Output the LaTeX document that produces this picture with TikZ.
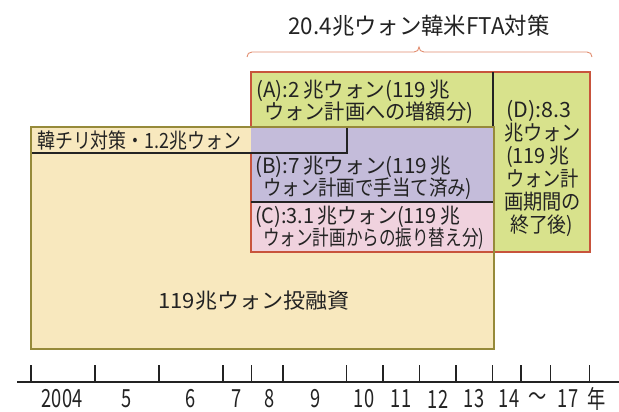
\documentclass[tikz,border=0pt]{standalone}
\usepackage{fontspec}
\usepackage{graphicx}
\newfontfamily\jp{Noto Sans CJK JP}
\newcommand\fw[2]{\resizebox{#1pt}{\height}{#2}}
\newcommand\axs[1]{\scalebox{0.73}[1]{#1}}
\definecolor{cream}{RGB}{248,232,190}
\definecolor{olivec}{RGB}{150,138,58}
\definecolor{lgreen}{RGB}{216,226,140}
\definecolor{lpurple}{RGB}{196,188,218}
\definecolor{lpink}{RGB}{240,210,222}
\definecolor{redline}{RGB}{200,84,60}
\definecolor{bracec}{RGB}{225,140,110}
\definecolor{ink}{RGB}{35,35,35}
\tikzset{
  boxtext/.style={inner sep=0pt, text=ink, align=left, font=\jp\fontsize{21}{22}\selectfont},
  dtext/.style={inner sep=0pt, text=ink, align=left, font=\jp\fontsize{21}{23}\selectfont},
  axlabel/.style={inner sep=0pt, text=ink, font=\jp\fontsize{25}{25}\selectfont},
  tick/.style={line width=1.3pt, ink},
}
\begin{document}
\begin{tikzpicture}[x=1pt, y=-1pt]
\useasboundingbox (0,0) rectangle (619,412);
% main yellow box
\fill[cream] (31,127) rectangle (494,349);
% A, D, B, C fills
\fill[lgreen] (251,72) rectangle (493,127);
\fill[lgreen] (493,72) rectangle (590,252);
\fill[lpurple] (251,127) rectangle (493,202);
\fill[lpink] (251,202) rectangle (493,252);
% red outline
\draw[redline, line width=1.8pt] (251,72) rectangle (590,252);
% dividers
\draw[ink, line width=1.1pt] (493,72) -- (493,127);
\draw[ink, line width=1.1pt] (251,202) -- (493,202);
% label box
\fill[cream] (31,127) rectangle (251,153);
\fill[lpurple] (251,127) rectangle (347,153);
\draw[ink, line width=1.1pt] (31,153) -- (347,153) -- (347,127);
% yellow outline
\draw[olivec, line width=1.6pt] (31,127) rectangle (494,349);
% brace
\draw[bracec, line width=0.9pt] (247,57) .. controls (247,54) and (249,52) .. (252,52)
  -- (414,52) .. controls (417,52) and (419,50) .. (419,47)
  .. controls (419,50) and (421,52) .. (424,52)
  -- (587,52) .. controls (590,52) and (592,54) .. (592,57);
% texts
\node[inner sep=0pt, text=ink, font=\jp\fontsize{23}{23}\selectfont] (title) at (419,26) {\fw{261}{20.4兆ウォン韓米FTA対策}};
\node[boxtext, anchor=west] (ta) at (256,102) {\fw{194}{(A):2\,兆ウォン(119\,兆}\\\hspace*{8pt}\fw{209}{ウォン計画への増額分)}};
\node[boxtext, anchor=west] (tb) at (255,178) {\fw{196}{(B):7\,兆ウォン(119\,兆}\\\hspace*{8pt}\fw{209}{ウォン計画で手当て済み)}};
\node[boxtext, anchor=west] (tc) at (255,228) {\fw{205}{(C):3.1\,兆ウォン(119\,兆}\\\hspace*{8pt}\fw{221}{ウォン計画からの振り替え分)}};
\node[dtext, anchor=west] (td) at (504,168) {\hspace*{2pt}\fw{65}{(D):8.3}\\\fw{77}{兆ウォン}\\\hspace*{2pt}\fw{63}{(119\,兆}\\\hspace*{2pt}\fw{73}{ウォン計}\\\fw{77}{画期間の}\\\hspace*{6pt}\fw{63}{終了後)}};
\node[boxtext, anchor=west] (tl) at (37,141) {\fw{204}{韓チリ対策・1.2兆ウォン}};
\node[inner sep=0pt, text=ink, font=\jp\fontsize{21}{21}\selectfont] (tm) at (254,301) {\fw{191}{119兆ウォン投融資}};
% axis
\coordinate (axl) at (17,382);
\coordinate (axr) at (619,382);
\draw[ink, line width=1.3pt] (axl) -- (axr);
\foreach \t in {31,95,159,223,251.6,283,346.5,383,419.5,456,492.7,521,550.5,589.3}
  \draw[tick] (\t,365) -- (\t,382);
\foreach \lx/\lt [count=\i] in {62/2004,127/5,191/6,237/7,270/8,316/9,364/10,401/11,438/12,474/13,509/14,538/～,568/17,597/年}
  \node[axlabel] (lab\i) at (\lx,399) {\axs{\lt}};
\end{tikzpicture}
\end{document}
